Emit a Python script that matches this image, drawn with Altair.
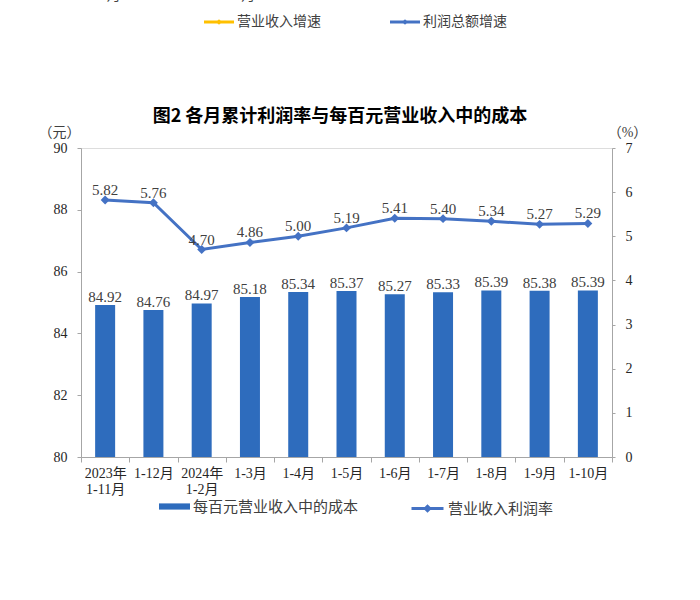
import altair as alt
import pandas as pd

# ---- data ----
categories = ["2023年|1-11月", "1-12月", "2024年|1-2月", "1-3月", "1-4月", "1-5月",
              "1-6月", "1-7月", "1-8月", "1-9月", "1-10月"]
cost_per_100 = [84.92, 84.76, 84.97, 85.18, 85.34, 85.37, 85.27, 85.33, 85.39, 85.38, 85.39]
profit_margin = [5.82, 5.76, 4.70, 4.86, 5.00, 5.19, 5.41, 5.40, 5.34, 5.27, 5.29]
bar_series = "每百元营业收入中的成本"
line_series = "营业收入利润率"
left_ticks = [80, 82, 84, 86, 88, 90]
right_ticks = [0, 1, 2, 3, 4, 5, 6, 7]
title_text = "图2  各月累计利润率与每百元营业收入中的成本"
left_unit = "（元）"
right_unit = "（%）"
# fragments of the chart above (cut off at the top of the picture)
prev_labels = ["1-10月", "1-2月"]
prev_series = ["营业收入增速", "利润总额增速"]

df = pd.DataFrame({
    "cat": categories,
    "cost": cost_per_100,
    "margin": profit_margin,
    "bs": bar_series,
    "ls": line_series,
})

SERIF = "Liberation Serif, Noto Sans CJK SC"
CJK = "Noto Sans CJK SC"
BAR = "#2E6CBD"
LINE = "#4472C4"
GRAY = "#A6A6A6"
TXT = "#404040"

x_axis = alt.Axis(title=None, labelExpr="split(datum.label, '|')",
                  labelFont=SERIF, labelFontSize=14, labelColor="#262626",
                  labelAngle=0, labelLineHeight=16, labelPadding=4,
                  tickBand="extent", tickSize=5, tickColor=GRAY,
                  domainColor=GRAY, grid=False)
x_scale = alt.Scale(paddingInner=0, paddingOuter=0)


def x_enc():
    return alt.X("cat:N", sort=categories, scale=x_scale, axis=x_axis)


yl_scale = alt.Scale(domain=[80, 90], nice=False, zero=False)
yr_scale = alt.Scale(domain=[0, 7], nice=False, zero=True)

base = alt.Chart(df)

bars = base.mark_bar(size=20).encode(
    x=x_enc(),
    y=alt.Y("cost:Q", scale=yl_scale,
            axis=alt.Axis(orient="left", values=left_ticks, title=left_unit,
                          titleAngle=0, titleX=-22, titleY=-16, titleAlign="center",
                          titleBaseline="middle", titleFont=SERIF, titleFontSize=14,
                          titleFontWeight="normal", titleColor="#404040",
                          labelFont=SERIF, labelFontSize=14, labelColor="#262626",
                          labelPadding=10, tickSize=4, tickColor=GRAY,
                          domainColor=GRAY, grid=False)),
    y2=alt.datum(80),
    fill=alt.Fill("bs:N", scale=alt.Scale(domain=[bar_series], range=[BAR]),
                  legend=alt.Legend(orient="none", legendX=78, legendY=343, title=None,
                                    symbolType="M-1,-0.2H1V0.2H-1Z", symbolSize=961,
                                    symbolStrokeWidth=0, labelFont=SERIF,
                                    labelFontSize=15, labelColor=TXT, labelOffset=3,
                                    labelLimit=400)),
)

bar_labels = base.mark_text(baseline="bottom", dy=0, font=SERIF, fontSize=15,
                            color=TXT).encode(
    x=x_enc(),
    y=alt.Y("cost:Q", scale=yl_scale, axis=None),
    text=alt.Text("cost:Q", format=".2f"),
)

line = base.mark_line(strokeWidth=3).encode(
    x=x_enc(),
    y=alt.Y("margin:Q", scale=yr_scale,
            axis=alt.Axis(orient="right", values=right_ticks, title=right_unit,
                          titleAngle=0, titleX=15, titleY=-16, titleAlign="center",
                          titleBaseline="middle", titleFont=SERIF, titleFontSize=14,
                          titleFontWeight="normal", titleColor="#404040",
                          labelFont=SERIF, labelFontSize=14, labelColor="#262626",
                          labelPadding=10, tickSize=3, tickColor=GRAY,
                          domainColor=GRAY, grid=False)),
    stroke=alt.Stroke("ls:N", scale=alt.Scale(domain=[line_series], range=[LINE]),
                      legend=alt.Legend(orient="none", legendX=329, legendY=343, title=None,
                                        symbolType="M-1,0H1M-0.14,0L0,-0.14L0.14,0L0,0.14Z",
                                        symbolSize=1024, symbolStrokeWidth=3,
                                        symbolFillColor=LINE,
                                        labelFont=SERIF, labelFontSize=15,
                                        labelColor=TXT, labelOffset=3, labelLimit=400)),
)

points = base.mark_point(shape="diamond", filled=True, size=80, color=LINE,
                         opacity=1).encode(
    x=x_enc(),
    y=alt.Y("margin:Q", scale=yr_scale, axis=None),
)

line_labels = base.mark_text(baseline="bottom", dy=-2, font=SERIF, fontSize=15,
                             color=TXT).encode(
    x=x_enc(),
    y=alt.Y("margin:Q", scale=yr_scale, axis=None),
    text=alt.Text("margin:Q", format=".2f"),
)

# ---- chart title (as text, centred over the plot) ----
title_mark = alt.Chart(pd.DataFrame({"t": [title_text]})).mark_text(
    font=CJK, fontSize=18, fontWeight="bold", color="#000000",
    align="center", baseline="middle").encode(
    x=alt.value(259), y=alt.value(-31), text="t:N")

# ---- fragment of the previous chart at the very top ----
prev_lab1 = alt.Chart(pd.DataFrame({"t": [prev_labels[0]]})).mark_text(
    font=SERIF, fontSize=14, color=TXT, baseline="alphabetic").encode(
    x=alt.value(20), y=alt.value(-148), text="t:N")
prev_lab2 = alt.Chart(pd.DataFrame({"t": [prev_labels[1]]})).mark_text(
    font=SERIF, fontSize=14, color=TXT, baseline="alphabetic").encode(
    x=alt.value(158), y=alt.value(-148), text="t:N")


def prev_legend(name, color, x0):
    d = pd.DataFrame({"t": [name]})
    r = alt.Chart(d).mark_rule(color=color, strokeWidth=3).encode(
        x=alt.value(x0), x2=alt.value(x0 + 30), y=alt.value(-126))
    p = alt.Chart(d).mark_point(shape="diamond", filled=True, size=30, color=color,
                                opacity=1).encode(x=alt.value(x0 + 15), y=alt.value(-126))
    t = alt.Chart(d).mark_text(font=SERIF, fontSize=14, color=TXT, align="left",
                               baseline="middle").encode(
        x=alt.value(x0 + 33), y=alt.value(-126), text="t:N")
    return [r, p, t]


deco = [title_mark, prev_lab1, prev_lab2] + prev_legend(prev_series[0], "#FFC000", 123) \
    + prev_legend(prev_series[1], LINE, 309)

chart = alt.layer(bars, bar_labels, line, points, line_labels, *deco).resolve_scale(
    y="independent").properties(
    width=531, height=309,
    autosize=alt.AutoSizeParams(type="none"),
    padding={"left": 81, "top": 148, "right": 88, "bottom": 143},
).configure_view(stroke=GRAY, strokeWidth=1).configure(background="white")

chart.save("out.html", embed_options={"renderer": "svg", "actions": False})
